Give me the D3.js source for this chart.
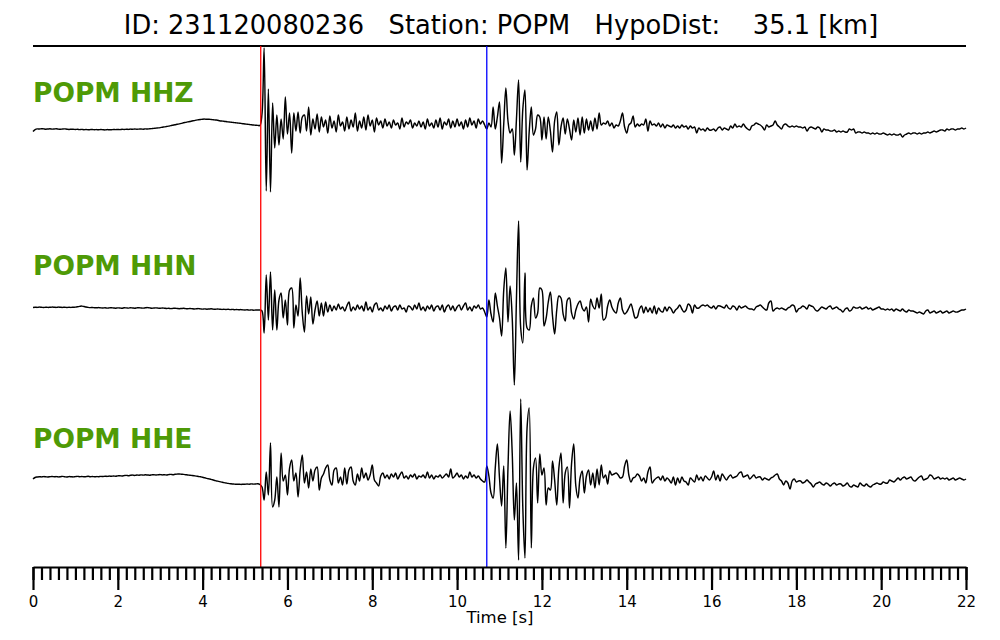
<!DOCTYPE html>
<html><head><meta charset="utf-8">
<script src="https://cdn.jsdelivr.net/npm/d3@7"></script>
<style>body{margin:0;background:#fff}</style>
</head><body><svg id="chart" width="1000" height="640"></svg>
<script>
const titleText = "ID: 231120080236   Station: POPM   HypoDist:    35.1 [km]";
const channels = ["POPM HHZ", "POPM HHN", "POPM HHE"];
const sampleInterval = 0.05;   // seconds between samples
const timeDomain = [0, 22];
const pPick = 5.37;
const sPick = 10.70;
const majorTicks = [0, 2, 4, 6, 8, 10, 12, 14, 16, 18, 20, 22];
const minorStep = 0.2;
const xLabel = "Time [s]";

const hhz = [
-2.5,-0.6,0.1,0.0,0.3,0.1,-0.2,0.0,0.2,-0.1,
0.0,0.2,-0.1,-0.3,0.0,0.1,-0.2,-0.4,-0.2,-0.3,
-0.5,-0.3,-0.6,-0.4,-0.7,-0.5,-0.8,-0.6,-0.5,-0.7,
-0.6,-0.8,-0.5,-0.7,-0.9,-0.6,-0.8,-0.7,-0.5,-0.6,
-0.4,-0.6,-0.3,-0.5,-0.2,-0.4,-0.1,-0.3,0.0,-0.2,
-0.1,0.0,-0.2,0.1,0.0,0.2,0.4,0.6,0.9,1.1,
1.4,1.8,2.1,2.5,2.9,3.4,3.8,4.2,4.7,5.1,
5.6,6.2,6.6,7.1,7.5,8.0,8.4,8.9,9.2,9.5,
9.8,9.9,9.7,9.8,9.5,9.3,9.0,8.8,8.3,8.0,
7.8,7.5,7.1,6.9,6.6,6.4,6.1,5.9,5.6,5.3,
5.0,4.8,4.5,4.2,4.0,3.8,3.6,3.5,15,81,
-62,40,-63,26,-19,14,-16,10,-10,32,
-5,16,-24,16,-2,17,-4,12,14,-2,
22,-6,10,0,15,-3,12,2,9,-4,
13,1,8,-3,14,3,7,-2,12,0,
9,2,16,-2,8,1,12,-1,14,3,
9,-3,11,4,8,1,10,3,7,1,
9,4,6,0,11,2,7,5,9,1,
6,3,8,2,7,0,10,3,6,1,
9,2,11,0,7,4,10,1,8,2,
10,3,7,0,9,2,11,4,8,1,
10,5,8,4,0,6,2,22,0,12,
27,-34,5,41,8,-4,0,-26,10,49,
-33,20,39,-41,-3,22,-6,0,14,12,
-11,12,-10,12,-2,-23,8,17,-16,2,
11,-5,10,0,-11,9,-3,11,-6,12,
-4,10,-1,8,-2,11,0,16,4,6,
5,8,3,6,1,4,3,8,16,2,
-4,4,6,13,2,5,3,5,4,10,
-2,8,4,5,3,6,2,5,1,4,
3,2,4,1,3,1,4,2,3,0,
3,1,2,-4,1,-1,0,-2,1,-1,
-1,0,-2,1,2,-1,1,0,-1,3,
1,5,2,3,2,5,2,0,-1,3,
4,6,5,4,2,-1,4,2,3,4,
8,4,2,0,4,5,3,2,3,2,
3,2,2,1,2,-2,1,2,1,0,
2,1,-3,0,-1,-1,-2,-2,-1,-3,
-2,-3,-2,-3,-3,0,-1,0,-4,-3,
-3,-4,-3,-4,-4,-5,-4,-5,-4,-5,
-5,-4,-5,-6,-5,-6,-5,-6,-6,-5,
-8,-6,-5,-4,-5,-4,-4,-5,-4,-5,
-4,-4,-3,-4,-3,-2,-3,-2,-1,-1,
-2,0,-1,0,0,-1,0,0,1,0,
1
];

const hhn = [
0.5,0.8,0.6,0.9,0.7,0.5,0.8,0.6,0.7,0.9,
0.8,0.6,0.9,0.7,0.6,0.8,0.5,0.7,0.6,0.8,
0.9,1.2,1.6,1.9,1.5,1.0,0.6,0.4,0.5,0.3,
0.2,0.4,0.1,0.0,0.2,-0.1,0.1,0.3,0.0,-0.2,
0.1,0.0,-0.3,0.2,0.1,-0.1,0.3,0.0,-0.2,0.1,
0.3,0.0,-0.1,0.2,0.4,0.1,-0.2,0.0,0.1,-0.1,
-0.3,0.0,-0.2,-0.5,-0.3,-0.6,-0.4,-0.2,-0.5,-0.7,
-0.5,-0.3,-0.6,-0.8,-0.5,-0.7,-1.0,-0.8,-0.6,-0.9,
-1.1,-0.9,-1.2,-1.0,-0.8,-1.1,-1.3,-1.0,-1.2,-1.4,
-1.3,-1.5,-1.2,-1.6,-1.4,-1.7,-1.5,-1.8,-1.6,-1.9,
-2.0,-1.8,-2.1,-1.9,-2.2,-2.0,-2,-2,-3,-25,
33,-12,36,-22,18,-22,8,15,-10,8,
-17,18,20,-20,3,-8,30,-5,-24,12,
-6,11,-16,-2,7,-8,5,-8,6,-4,
3,-3,2,-2,4,-1,1,-3,2,6,
-3,1,-2,3,-1,2,-3,6,-2,1,
-4,3,5,-2,0,-3,2,-1,3,-3,
1,2,-2,3,-1,0,-4,2,1,-2,
3,-1,5,-2,1,-3,2,-1,3,-3,
1,2,-2,3,-4,1,3,-2,2,-3,
1,3,-2,2,5,-2,1,-3,2,0,
3,-1,0,-4,-9,8,-6,-14,15,2,
-10,-28,18,40,-14,22,-10,-77,10,87,
-20,-35,35,-20,-22,2,10,-10,-5,20,
18,-18,-10,6,16,-8,-26,-2,12,10,
-6,-13,8,10,-5,-11,-2,4,7,0,
-3,1,-14,9,2,-1,10,0,14,-12,
-10,2,8,1,-3,-5,5,10,-2,-6,
-4,0,4,-3,-10,-9,-1,2,-5,1,
-4,0,-5,2,-6,0,-3,-4,1,-3,
1,-1,-5,-2,0,3,-1,-4,-2,4,
2,-5,3,0,0,2,3,2,3,1,
0,2,-1,2,2,1,0,3,0,-1,
2,1,-2,2,0,1,2,0,-1,-1,
-2,1,2,3,1,-1,-2,5,7,-3,
-1,0,-1,0,-1,-2,0,1,3,2,
-4,-1,0,2,1,-1,3,2,1,-2,
-3,-1,1,0,-1,1,2,-1,0,1,
-1,-2,-4,-1,0,-3,-2,1,0,0,
1,-1,0,1,-1,0,-2,-1,0,1,
-1,-1,-2,-1,-2,-1,-3,-1,-2,-3,
-1,-3,-4,-2,-3,-3,-4,-5,-4,-5,
-6,-3,-2,-5,-4,-3,-5,-4,-3,-5,
-4,-3,-5,-4,-3,-4,-4,-3,-2,-2,
-1
];

const hhe = [
-1.0,0.5,1.0,1.3,1.1,1.4,1.2,1.0,1.3,1.5,
1.2,1.4,1.1,1.3,1.6,1.2,1.0,1.4,1.3,1.1,
1.4,1.6,1.3,1.5,1.2,1.4,1.7,1.3,1.5,1.2,
1.4,1.3,1.6,1.5,1.8,1.6,1.9,1.7,2.0,1.8,
2.1,2.3,2.0,2.4,2.6,2.3,2.7,2.9,2.6,3.0,
2.8,3.1,2.9,3.2,3.0,2.8,3.1,3.3,3.0,3.2,
3.4,3.1,3.3,3.0,3.4,3.6,3.3,3.7,3.9,4.0,
3.8,3.6,3.3,3.0,2.8,2.5,2.2,1.9,1.5,1.2,
0.7,0.2,-0.4,-0.9,-1.4,-2.0,-2.6,-3.1,-3.6,-4.1,
-4.6,-5.0,-5.4,-5.7,-6.0,-6.1,-6.3,-6.2,-6.4,-6.3,
-6.2,-6.0,-6.2,-5.9,-6.1,-6.0,-5.8,-6.5,-9,-22,
6,-17,35,-29,-22,1,-29,25,-3,3,
-17,10,18,-3,5,-19,8,23,-5,6,
-10,9,-3,8,11,-12,0,4,10,13,
-2,-7,8,10,-5,1,-7,10,-6,8,
11,-3,-7,4,-3,10,0,5,-2,3,
13,-2,-5,-8,2,5,0,3,-1,4,
1,5,-1,3,6,0,2,-1,3,1,
4,-1,2,1,3,0,6,0,3,-1,
2,1,3,0,2,4,1,9,0,2,
5,1,3,-1,2,0,6,1,3,0,
2,-1,-3,-4,12,2,-15,-20,10,34,
0,-28,12,-70,10,67,25,-42,-5,-82,
79,-30,-80,50,70,-70,10,20,-25,24,
3,10,-27,-10,-12,17,-2,-27,10,25,
-25,5,11,-30,15,34,-8,-20,0,7,
-15,2,8,-7,5,-10,9,-7,13,0,
3,-6,7,3,4,5,3,0,1,12,
18,3,-4,0,1,4,2,-3,0,-5,
6,11,-5,-2,0,1,-2,2,-3,0,
-2,-5,1,-7,0,-5,1,-3,-4,-7,
0,-2,-4,3,-2,1,-3,2,0,-2,
1,7,-2,3,-3,4,1,-2,1,3,
0,1,2,5,6,1,2,3,-1,1,
3,0,1,1,-2,0,-1,-2,0,1,
3,4,-1,-3,-7,-3,-5,-11,-3,-1,
-4,-3,-3,-5,-4,-2,-4,-6,-9,-6,
-5,-4,-6,-7,-5,-6,-8,-6,-5,-7,
-6,-6,-8,-7,-5,-8,-9,-7,-8,-9,
-5,-7,-8,-6,-8,-9,-7,-6,-5,-6,
-6,-4,-5,-5,-2,-3,-4,-2,0,-2,
0,1,-1,0,1,-2,-3,-1,1,2,
-2,-1,0,3,2,-1,0,1,-1,0,
-1,0,-2,-1,0,-2,-1,0,-1,-2,
-1
];

const traces = [hhz, hhn, hhe];

// ---------- layout ----------
const svg = d3.select("#chart");
svg.append("rect").attr("width", 1000).attr("height", 640).attr("fill", "#fff");

const x = d3.scaleLinear().domain(timeDomain).range([33, 966]);
const baselines = [129, 308, 478];
const labelBaselines = [102, 275, 448];
const topY = 46, axisY = 567;

// title
svg.append("text")
  .attr("x", 501).attr("y", 34)
  .attr("text-anchor", "middle")
  .attr("font-family", "DejaVu Sans")
  .attr("font-size", 25.7)
  .style("white-space", "pre")
  .attr("xml:space", "preserve")
  .text(titleText);

// top line
svg.append("line")
  .attr("x1", x(timeDomain[0])).attr("x2", x(timeDomain[1]))
  .attr("y1", topY).attr("y2", topY)
  .attr("stroke", "#000").attr("stroke-width", 1.8);

// traces
traces.forEach((tr, k) => {
  const y = d3.scaleLinear().domain([-100, 100]).range([baselines[k] + 100, baselines[k] - 100]);
  const line = d3.line()
    .x((d, i) => x(i * sampleInterval))
    .y(d => y(d))
    .curve(d3.curveCatmullRom.alpha(0.5));
  svg.append("path")
    .datum(tr)
    .attr("d", line)
    .attr("fill", "none")
    .attr("stroke", "#000")
    .attr("stroke-width", 1.45)
    .attr("stroke-linejoin", "round");
  svg.append("text")
    .attr("x", x(0)).attr("y", labelBaselines[k])
    .attr("font-family", "DejaVu Sans")
    .attr("font-weight", "bold")
    .attr("font-size", 26.5)
    .attr("fill", "#4e9a06")
    .text(channels[k]);
});

// picks
[[pPick, "#ff0000"], [sPick, "#0000ff"]].forEach(([t, c]) => {
  svg.append("line")
    .attr("x1", x(t)).attr("x2", x(t))
    .attr("y1", topY).attr("y2", axisY)
    .attr("stroke", c).attr("stroke-width", 1.3);
});

// axis
const minorTicks = d3.range(0, Math.round((timeDomain[1] - timeDomain[0]) / minorStep) + 1).map(k => +(k * minorStep).toFixed(1));
const gMinor = svg.append("g").attr("transform", `translate(0,${axisY})`)
  .call(d3.axisBottom(x).tickValues(minorTicks).tickSize(13).tickSizeOuter(0).tickFormat(""));
gMinor.select(".domain").remove();
gMinor.selectAll(".tick line").attr("stroke", "#000").attr("stroke-width", 2.2);

const gMajor = svg.append("g").attr("transform", `translate(0,${axisY})`)
  .call(d3.axisBottom(x).tickValues(majorTicks).tickSize(23).tickSizeOuter(0).tickPadding(6).tickFormat(d3.format("d")));
gMajor.select(".domain").attr("stroke", "#000").attr("stroke-width", 2.2);
gMajor.selectAll(".tick line").attr("stroke", "#000").attr("stroke-width", 2.2);
gMajor.selectAll(".tick text").attr("font-family", "DejaVu Sans").attr("font-size", 15).attr("fill", "#000");
gMajor.attr("font-family", "DejaVu Sans").attr("font-size", 15);

svg.append("text")
  .attr("x", 500).attr("y", 623)
  .attr("text-anchor", "middle")
  .attr("font-family", "DejaVu Sans")
  .attr("font-size", 16.5)
  .text(xLabel);
</script></body></html>
